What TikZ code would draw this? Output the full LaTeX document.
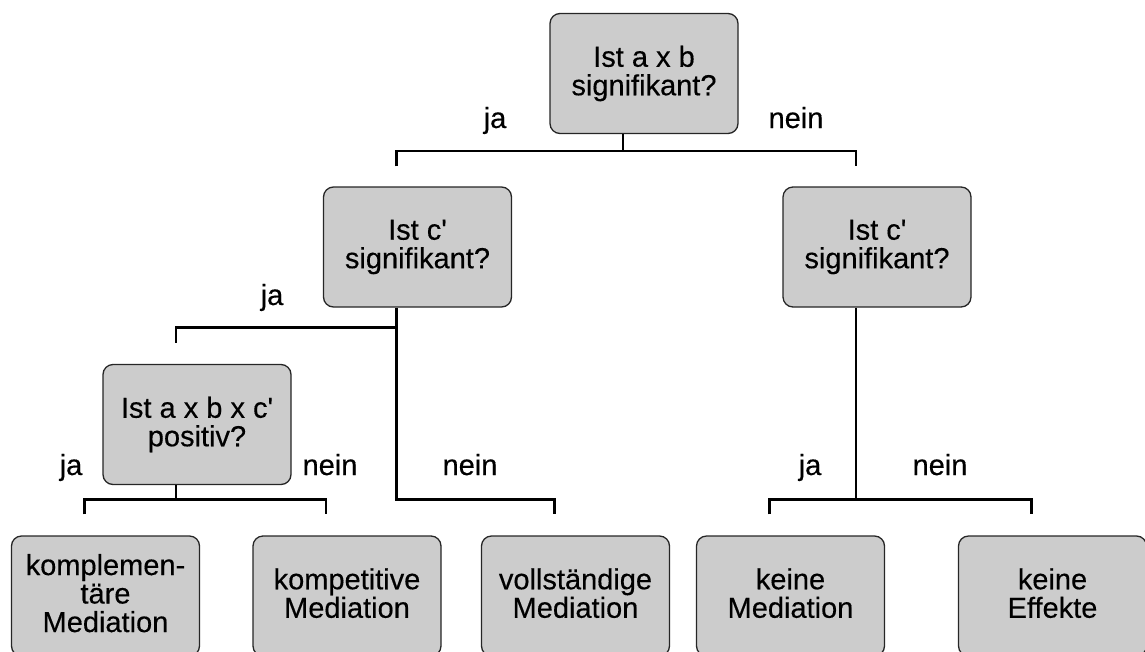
\documentclass[tikz,border=0pt]{standalone}
\usepackage{fontspec}
\setmainfont[FakeBold=0.35]{Liberation Sans}
\definecolor{boxgray}{RGB}{204,204,204}
% zero-height strut that gives the last line a regular descender depth
\newcommand\lowstrut{\rule[-6pt]{0pt}{6pt}}
\newcommand\apos{\textquotesingle}
\begin{document}
\begin{tikzpicture}[x=1pt,y=-1pt,
  box/.style={draw=black!85, line width=1.3pt, fill=boxgray, rounded corners=10pt,
    minimum width=188pt, minimum height=120pt, inner sep=0pt, align=center,
    font=\fontsize{29}{28.5}\selectfont},
  conn/.style={line width=2.5pt, line join=miter},
  lbl/.style={anchor=base, inner sep=0pt, font=\fontsize{29}{28.5}\selectfont}]
\useasboundingbox (0,0) rectangle (1145,651);

% decision boxes
\node[box] (top) at (644,73.5)  {Ist a x b\\signifikant?\lowstrut};
\node[box] (cL)  at (417.5,247) {Ist c\apos\\signifikant?\lowstrut};
\node[box] (cR)  at (877,247)   {Ist c\apos\\signifikant?\lowstrut};
\node[box] (pos) at (197,424.5) {Ist a x b x c\apos\\positiv?\lowstrut};

% outcome boxes
\node[box] (b1) at (105.5,596) {komplemen-\\täre\\Mediation\lowstrut};
\node[box] (b2) at (347,596)   {kompetitive\\Mediation\lowstrut};
\node[box] (b3) at (575.5,596) {vollständige\\Mediation\lowstrut};
\node[box] (b4) at (790.5,596) {keine\\Mediation\lowstrut};
\node[box] (b5) at (1052.5,596) {keine\\Effekte\lowstrut};

% first split
\draw[conn] ([xshift=-21pt]top.south) -- ++(0,17);
\draw[conn] ([xshift=-21pt,yshift=20pt]cL.north) |- ([xshift=-21pt,yshift=-17pt]top.south)
  -| ([xshift=-21pt,yshift=20pt]cR.north);

% left branch
\draw[conn] ([xshift=-21pt]cL.south) -- ++(0,192) -| ([xshift=-21pt,yshift=21pt]b3.north);
\draw[conn] ([xshift=-21pt,yshift=21pt]pos.north) |- ([xshift=-21pt,yshift=-20pt]cL.south);

% sign split
\draw[conn] ([xshift=-21pt]pos.south) -- ++(0,14.5);
\draw[conn] ([xshift=-21pt,yshift=21pt]b1.north) |- ([xshift=-21pt,yshift=-14.5pt]pos.south)
  -| ([xshift=-21pt,yshift=21pt]b2.north);

% right branch
\draw[conn] ([xshift=-21pt]cR.south) -- ++(0,192);
\draw[conn] ([xshift=-21pt,yshift=21pt]b4.north) |- ([xshift=-21pt,yshift=-192pt]cR.south)
  -| ([xshift=-21pt,yshift=21pt]b5.north);

% branch labels
\node[lbl] (la1) at (495,128) {ja};
\node[lbl] (ln1) at (796,128) {nein};
\node[lbl] (la2) at (272,305) {ja};
\node[lbl] (la3) at (71,475)  {ja};
\node[lbl] (ln3) at (330,475) {nein};
\node[lbl] (ln2) at (470,475) {nein};
\node[lbl] (la4) at (810,475) {ja};
\node[lbl] (ln4) at (940,475) {nein};
\end{tikzpicture}
\end{document}
